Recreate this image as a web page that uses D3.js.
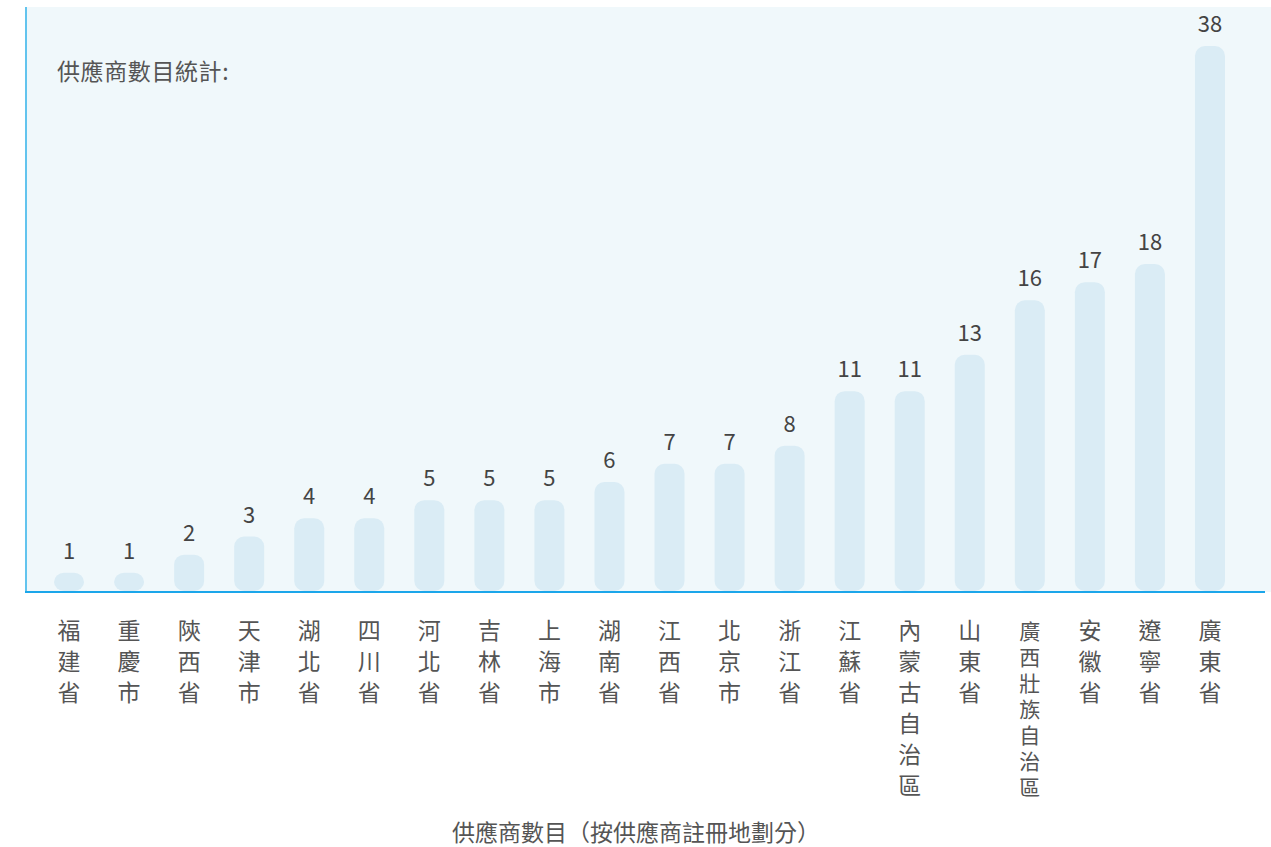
<!DOCTYPE html>
<html>
<head>
<meta charset="utf-8">
<script src="https://cdn.jsdelivr.net/npm/d3@7"></script>
<style>
  body { margin: 0; background: #fff; }
  svg { display: block; font-family: "Noto Sans CJK TC", "Noto Sans", sans-serif; }
</style>
</head>
<body>
<div class="svg-container"></div>
<script>
const provinces = ["福建省", "重慶市", "陝西省", "天津市", "湖北省", "四川省", "河北省", "吉林省", "上海市", "湖南省",
  "江西省", "北京市", "浙江省", "江蘇省", "內蒙古自治區", "山東省", "廣西壯族自治區", "安徽省", "遼寧省", "廣東省"];
const supplierCounts = [1, 1, 2, 3, 4, 4, 5, 5, 5, 6, 7, 7, 8, 11, 11, 13, 16, 17, 18, 38];
const chartTitle = "供應商數目統計:";
const xTitle = "供應商數目（按供應商註冊地劃分）";

const width = 1271, height = 847;
const margin = {top: 7, left: 25, bottom: 592};

const svg = d3.select(".svg-container").append("svg")
  .attr("width", width)
  .attr("height", height);

// panel background
svg.append("rect")
  .attr("x", margin.left).attr("y", margin.top)
  .attr("width", width - margin.left).attr("height", margin.bottom - margin.top)
  .attr("fill", "#f0f8fb");

svg.append("line")
  .attr("x1", margin.left + 1).attr("x2", margin.left + 1)
  .attr("y1", margin.top).attr("y2", margin.bottom)
  .attr("stroke", "#62c4ee").attr("stroke-width", 2);

const xScale = d3.scaleBand().domain(provinces).range([39, 1240]).paddingInner(0.5).paddingOuter(0.25);
// the tallest bar is capped at the top of the panel
const yScale = d3.scaleLinear().domain([0, 30]).range([591, 46]).clamp(true);

svg.selectAll("rect.bar")
  .data(provinces)
  .enter().append("rect")
  .attr("class", "bar")
  .attr("x", (d) => xScale(d))
  .attr("y", (d, i) => yScale(supplierCounts[i]))
  .attr("width", xScale.bandwidth())
  .attr("height", (d, i) => yScale(0) - yScale(supplierCounts[i]))
  .attr("rx", 10).attr("ry", 10)
  .attr("fill", "#daecf5");

svg.selectAll("text.value")
  .data(provinces)
  .enter().append("text")
  .attr("class", "value")
  .attr("x", (d) => xScale(d) + xScale.bandwidth() / 2)
  .attr("y", (d, i) => yScale(supplierCounts[i]) - 14)
  .attr("text-anchor", "middle")
  .attr("font-size", 22)
  .attr("fill", "#444")
  .text((d, i) => supplierCounts[i]);

// axis line
svg.append("line")
  .attr("x1", margin.left).attr("x2", 1265)
  .attr("y1", margin.bottom).attr("y2", margin.bottom)
  .attr("stroke", "#1ba6ea").attr("stroke-width", 2);

// vertical category labels, long names squeezed into the same height
const labels = svg.selectAll("g.cat")
  .data(provinces)
  .enter().append("g")
  .attr("class", "cat")
  .attr("transform", (d) => `translate(${xScale(d) + xScale.bandwidth() / 2},0)`);

labels.selectAll("text")
  .data((d) => Array.from(d).map((c, j, arr) => ({c: c, j: j, n: arr.length, step: Math.min(31, 156 / (arr.length - 1))})))
  .enter().append("text")
  .attr("x", 0)
  .attr("y", (t) => 639 + t.j * t.step)
  .attr("text-anchor", "middle")
  .attr("font-size", (t) => t.n > 6 ? 21 : 23)
  .attr("fill", "#555")
  .text((t) => t.c);

svg.append("text")
  .attr("x", 57).attr("y", 80)
  .attr("font-size", 23)
  .attr("letter-spacing", 0.6)
  .attr("fill", "#555")
  .text(chartTitle);

svg.append("text")
  .attr("x", 636).attr("y", 841)
  .attr("text-anchor", "middle")
  .attr("font-size", 23)
  .attr("fill", "#555")
  .text(xTitle);
</script>
</body>
</html>
